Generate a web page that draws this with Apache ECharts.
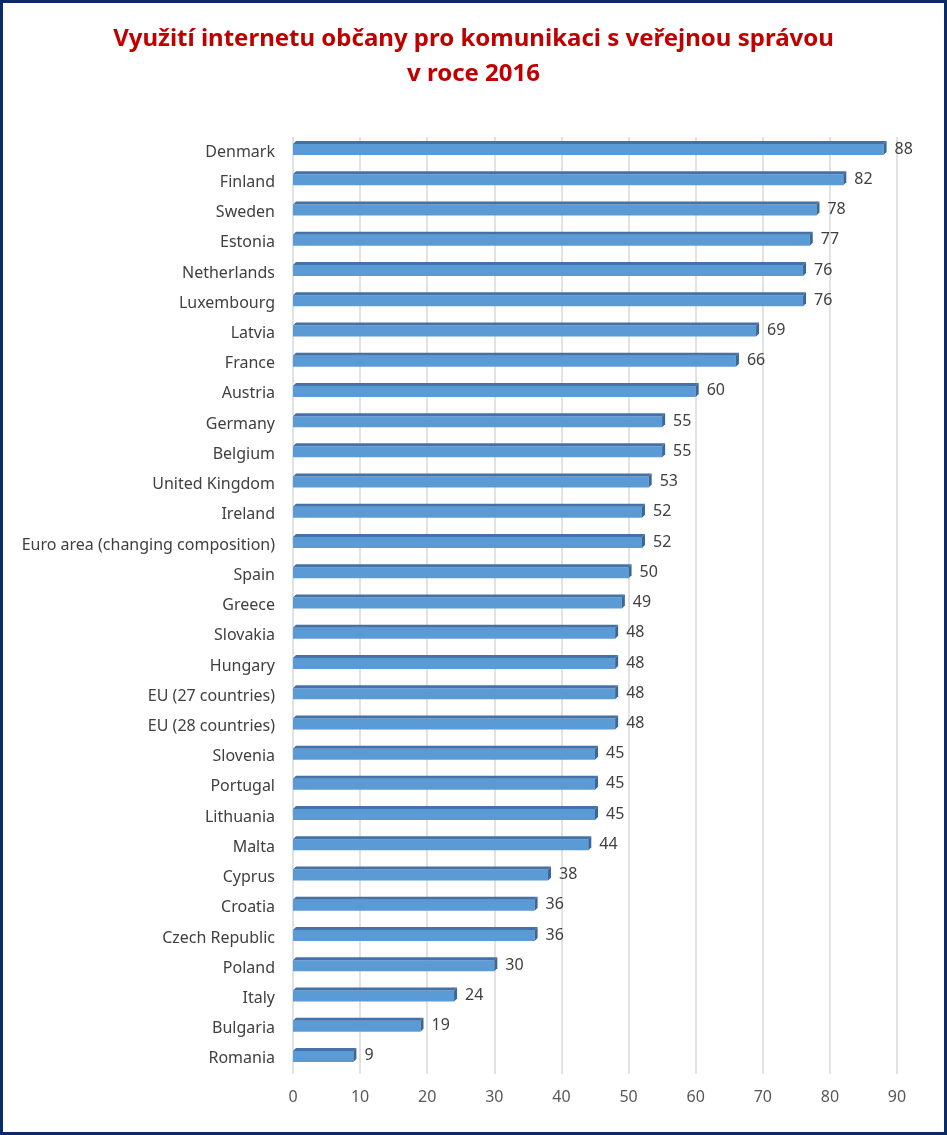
<!DOCTYPE html>
<html><head><meta charset="utf-8">
<script src="https://cdn.jsdelivr.net/npm/echarts@6/dist/echarts.min.js"></script>
<style>html,body{margin:0;padding:0;background:#fff}#c{width:947px;height:1135px}</style>
</head><body><div id="c"></div>
<script>
const categories = ["Denmark","Finland","Sweden","Estonia","Netherlands","Luxembourg","Latvia","France","Austria","Germany","Belgium","United Kingdom","Ireland","Euro area (changing composition)","Spain","Greece","Slovakia","Hungary","EU (27 countries)","EU (28 countries)","Slovenia","Portugal","Lithuania","Malta","Cyprus","Croatia","Czech Republic","Poland","Italy","Bulgaria","Romania"];
const values = [88,82,78,77,76,76,69,66,60,55,55,53,52,52,50,49,48,48,48,48,45,45,45,44,38,36,36,30,24,19,9];
const titleText = "Využití internetu občany pro komunikaci s veřejnou správou\nv roce 2016";

const chart = echarts.init(document.getElementById('c'), null, {renderer:'canvas'});
const DX = 3, DY = 3;
chart.setOption({
  backgroundColor:'#ffffff',
  animation:false,
  title:{text:titleText,left:'center',top:17,textStyle:{fontFamily:'Noto Sans',fontWeight:'bold',fontSize:24,color:'#C00000',lineHeight:35}},
  grid:{left:293,right:50,top:137,bottom:61,containLabel:false},
  xAxis:{type:'value',min:0,max:90,interval:10,
    axisLine:{show:false},axisTick:{show:false},
    splitLine:{show:true,lineStyle:{color:'#d9d9d9',width:1.5}},
    axisLabel:{fontFamily:'Noto Sans',fontSize:16,color:'#595959',margin:15}},
  yAxis:{type:'category',data:categories,inverse:true,
    axisLine:{show:false},axisTick:{show:false},
    axisLabel:{fontFamily:'Noto Sans',fontSize:16,color:'#404040',margin:18}},
  graphic:[{type:'rect',shape:{x:1.5,y:1.5,width:944,height:1132},style:{fill:null,stroke:'#0c2a66',lineWidth:3},z:100}],
  series:[{type:'custom',
    data:values.map((v,i)=>[v,i]),
    encode:{x:0,y:1},
    renderItem:function(params,api){
      const v=api.value(0), i=api.value(1);
      const p0=api.coord([0,i]), p1=api.coord([v,i]);
      const cy=p0[1], x0=p0[0], x1=p1[0];
      const yt=cy-8, yb=cy+3;
      return {type:'group',children:[
        {type:'rect',shape:{x:x0,y:yt,width:x1-x0,height:yb-yt},style:{fill:'#5B9BD5'}},
        {type:'polygon',shape:{points:[[x0,yt],[x0+DX,yt-DY],[x1+DX,yt-DY],[x1,yt]]},style:{fill:'#4472A8'}},
        {type:'polygon',shape:{points:[[x1,yt],[x1+DX,yt-DY],[x1+DX,yb-DY],[x1,yb]]},style:{fill:'#3A6698'}},
        {type:'text',style:{text:String(v),x:x1+DX+8,y:cy-3,verticalAlign:'middle',align:'left',fontFamily:'Noto Sans',fontSize:16,fill:'#404040'}}
      ]};
    }
  }]
});
</script></body></html>
